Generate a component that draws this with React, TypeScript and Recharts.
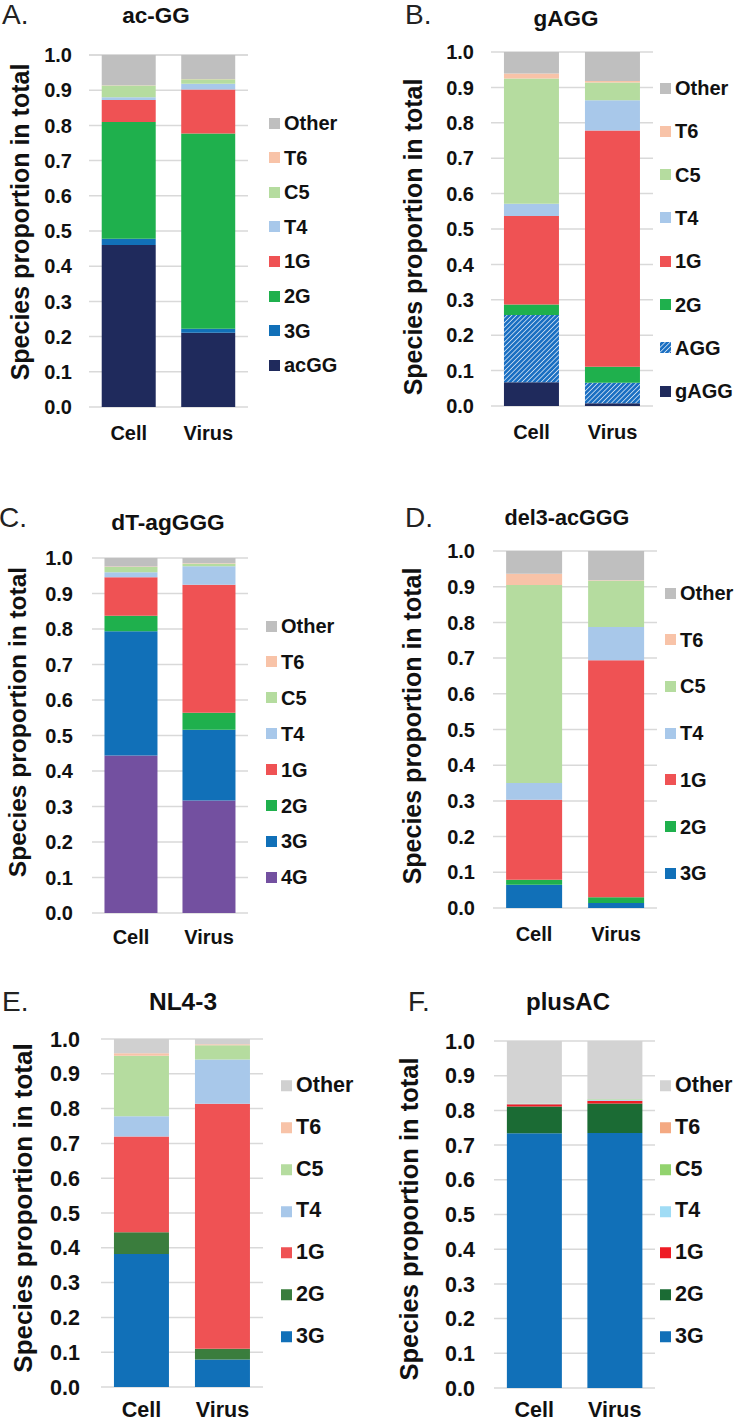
import React from "react";
import { BarChart, Bar, XAxis, YAxis, CartesianGrid } from "recharts";

const FONT = "'Liberation Sans', Arial, Helvetica, sans-serif";

const CATEGORIES = ["Cell", "Virus"];
const Y_TICKS = [0, 0.1, 0.2, 0.3, 0.4, 0.5, 0.6, 0.7, 0.8, 0.9, 1.0];
const Y_LABEL = "Species proportion in total";

// every stack is listed bottom -> top
const SERIES_ACGG = ["acGG", "3G", "2G", "1G", "T4", "C5", "T6", "Other"];
const ACGG_CELL = [0.46, 0.018, 0.332, 0.062, 0.008, 0.033, 0.001, 0.086];
const ACGG_VIRUS = [0.211, 0.011, 0.555, 0.125, 0.016, 0.013, 0.001, 0.068];

const SERIES_GAGG = ["gAGG", "AGG", "2G", "1G", "T4", "C5", "T6", "Other"];
const GAGG_CELL = [0.067, 0.19, 0.03, 0.25, 0.034, 0.354, 0.014, 0.061];
const GAGG_VIRUS = [0.0075, 0.0585, 0.045, 0.667, 0.086, 0.05, 0.004, 0.082];

const SERIES_DT = ["4G", "3G", "2G", "1G", "T4", "C5", "T6", "Other"];
const DT_CELL = [0.444, 0.35, 0.043, 0.109, 0.014, 0.015, 0.001, 0.024];
const DT_VIRUS = [0.317, 0.199, 0.048, 0.361, 0.052, 0.007, 0.001, 0.015];

const SERIES_DEL3 = ["3G", "2G", "1G", "T4", "C5", "T6", "Other"];
const DEL3_CELL = [0.065, 0.014, 0.224, 0.047, 0.555, 0.031, 0.064];
const DEL3_VIRUS = [0.014, 0.016, 0.664, 0.093, 0.13, 0.001, 0.082];

const SERIES_NL43 = ["3G", "2G", "1G", "T4", "C5", "T6", "Other"];
const NL43_CELL = [0.382, 0.063, 0.275, 0.058, 0.174, 0.007, 0.041];
const NL43_VIRUS = [0.079, 0.031, 0.704, 0.127, 0.041, 0.003, 0.015];

const SERIES_PLUSAC = ["3G", "2G", "1G", "T4", "C5", "T6", "Other"];
const PLUSAC_CELL = [0.734, 0.077, 0.007, 0.001, 0.001, 0.0, 0.18];
const PLUSAC_VIRUS = [0.735, 0.085, 0.008, 0.003, 0.001, 0.0, 0.168];

const NAVY = "#1f2a5c";
const BLUE = "#1170b8";
const GREEN = "#1fb04d";
const RED = "#ef5254";
const LBLUE = "#a8c8ea";
const LGREEN = "#b5dc9f";
const PEACH = "#f8c3a8";
const GREY = "#bfbfbf";
const PURPLE = "#7350a0";
const HATCH = "url(#aggHatch)";

const COLORS_ACGG = [NAVY, BLUE, GREEN, RED, LBLUE, LGREEN, PEACH, GREY];
const COLORS_GAGG = [NAVY, HATCH, GREEN, RED, LBLUE, LGREEN, PEACH, GREY];
const COLORS_DT = [PURPLE, BLUE, GREEN, RED, LBLUE, LGREEN, PEACH, GREY];
const COLORS_DEL3 = [BLUE, GREEN, RED, LBLUE, LGREEN, PEACH, GREY];
const COLORS_NL43 = [BLUE, "#3a7d3d", RED, LBLUE, LGREEN, PEACH, "#d0d0d0"];
const COLORS_PLUSAC = [BLUE, "#1b6b34", "#ee1c25", "#a0dcf5", "#92d36e", "#f4a982", "#d3d3d3"];

type Layout = {
  letter: string; letterX: number; letterY: number;
  title: string; titleX: number; titleY: number; titleSize: number;
  grid: [number, number, number, number];
  tickGap: number; fs: number;
  yLabelX: number; yLabelY: number; yLabelSize: number;
  legendX: number; legendY0: number; legendStep: number;
  xLabelY: number;
};

const AXIS_W = 70;
const PAD_T = 12;
const PAD_R = 4;
const X_H = 46;

function toRows(series: string[], cell: number[], virus: number[]) {
  return CATEGORIES.map((name, i) => {
    const vals = i === 0 ? cell : virus;
    const row: Record<string, number | string> = { name };
    series.forEach((s, j) => (row[s] = vals[j]));
    return row;
  });
}

function Swatch({ fill }: { fill: string }) {
  if (fill === HATCH) {
    return (
      <svg width={11} height={11} style={{ display: "block" }}>
        <defs>
          <pattern id="aggHatchLegend" width="3.4" height="3.4" patternUnits="userSpaceOnUse" patternTransform="rotate(45)">
            <rect width="3.4" height="3.4" fill="#1a6fc2" />
            <line x1="0" y1="0" x2="0" y2="3.4" stroke="#ffffff" strokeWidth="1.3" />
          </pattern>
        </defs>
        <rect width={11} height={11} fill="url(#aggHatchLegend)" />
      </svg>
    );
  }
  return <div style={{ width: 11, height: 11, background: fill }} />;
}

function Panel({ L, series, colors, cell, virus }: { L: Layout; series: string[]; colors: string[]; cell: number[]; virus: number[] }) {
  const rows = toRows(series, cell, virus);
  const [gl, gt, gr, gb] = L.grid;
  const w = gr - gl + AXIS_W + PAD_R;
  const h = gb - gt + PAD_T + X_H;
  const xTickY = L.xLabelY - 0.358 * L.fs;
  const text = { position: "absolute" as const, fontFamily: FONT, color: "#111", lineHeight: 1, whiteSpace: "nowrap" as const };

  return (
    <>
      <div style={{ ...text, left: L.letterX, top: L.letterY, fontSize: 28, transform: "translateY(-50%)", color: "#222" }}>{L.letter}</div>
      <div style={{ ...text, left: L.titleX, top: L.titleY, fontSize: L.titleSize, fontWeight: 700, transform: "translate(-50%,-50%)" }}>{L.title}</div>
      <div style={{ ...text, left: L.yLabelX, top: L.yLabelY, fontSize: L.yLabelSize, fontWeight: 700, transform: "translate(-50%,-50%) rotate(-90deg)" }}>{Y_LABEL}</div>
      <div style={{ position: "absolute", left: gl - AXIS_W, top: gt - PAD_T }}>
        <BarChart width={w} height={h} data={rows} margin={{ top: PAD_T, right: PAD_R, left: 0, bottom: 0 }} barCategoryGap="16%">
          <defs>
            <pattern id="aggHatch" width="3.4" height="3.4" patternUnits="userSpaceOnUse" patternTransform="rotate(45)">
              <rect width="3.4" height="3.4" fill="#1a6fc2" />
              <line x1="0" y1="0" x2="0" y2="3.4" stroke="#ffffff" strokeWidth="1.3" />
            </pattern>
          </defs>
          <CartesianGrid vertical={false} stroke="#d9d9d9" strokeWidth={1.5} />
          <XAxis dataKey="name" axisLine={false} tickLine={false} tickSize={0} height={X_H}
            tickMargin={xTickY - gb}
            tick={{ fill: "#111", fontSize: L.fs, fontWeight: 700, fontFamily: FONT }} />
          <YAxis type="number" domain={[0, 1]} ticks={Y_TICKS} interval={0} width={AXIS_W}
            axisLine={false} tickLine={false} tickSize={0} tickMargin={L.tickGap}
            tickFormatter={(v: number) => v.toFixed(1)}
            tick={{ fill: "#111", fontSize: L.fs, fontWeight: 700, fontFamily: FONT }} />
          {series.map((s, i) => (
            <Bar key={s} dataKey={s} stackId="a" fill={colors[i]} isAnimationActive={false} />
          ))}
        </BarChart>
      </div>
      {series.slice().reverse().map((s, k) => {
        const i = series.length - 1 - k;
        return (
          <div key={s} style={{ position: "absolute", left: L.legendX, top: L.legendY0 + k * L.legendStep, transform: "translateY(-50%)", display: "flex", alignItems: "center" }}>
            <Swatch fill={colors[i]} />
            <span style={{ fontFamily: FONT, fontWeight: 700, fontSize: L.fs, lineHeight: 1, marginLeft: 4, color: "#111" }}>{s}</span>
          </div>
        );
      })}
    </>
  );
}

const LAYOUT_A: Layout = { letter: "A.", letterX: 2, letterY: 15, title: "ac-GG", titleX: 156, titleY: 16, titleSize: 22.5, grid: [89, 55, 248, 407], tickGap: 17, fs: 20, yLabelX: 20, yLabelY: 222, yLabelSize: 25, legendX: 269, legendY0: 123, legendStep: 34.6, xLabelY: 433 };
const LAYOUT_B: Layout = { letter: "B.", letterX: 405, letterY: 15, title: "gAGG", titleX: 566, titleY: 19, titleSize: 22.5, grid: [491, 52, 653, 406], tickGap: 17, fs: 20, yLabelX: 413, yLabelY: 237, yLabelSize: 25, legendX: 660, legendY0: 88, legendStep: 43.3, xLabelY: 432 };
const LAYOUT_C: Layout = { letter: "C.", letterX: -1, letterY: 518, title: "dT-agGGG", titleX: 168, titleY: 522, titleSize: 22.7, grid: [92, 558, 248, 913], tickGap: 19, fs: 20, yLabelX: 18, yLabelY: 722, yLabelSize: 24.5, legendX: 266, legendY0: 626, legendStep: 35.9, xLabelY: 937 };
const LAYOUT_D: Layout = { letter: "D.", letterX: 405, letterY: 518, title: "del3-acGGG", titleX: 567, titleY: 518, titleSize: 21.6, grid: [493, 551, 657, 908], tickGap: 18, fs: 20, yLabelX: 412, yLabelY: 726, yLabelSize: 25, legendX: 665, legendY0: 593, legendStep: 46.7, xLabelY: 934 };
const LAYOUT_E: Layout = { letter: "E.", letterX: 2, letterY: 1002, title: "NL4-3", titleX: 183, titleY: 1002, titleSize: 24.5, grid: [101, 1039, 263, 1387], tickGap: 21, fs: 21.5, yLabelX: 23, yLabelY: 1208, yLabelSize: 26, legendX: 281, legendY0: 1086, legendStep: 41.8, xLabelY: 1409 };
const LAYOUT_F: Layout = { letter: "F.", letterX: 408, letterY: 1002, title: "plusAC", titleX: 568, titleY: 1002, titleSize: 24, grid: [494, 1041, 655, 1388], tickGap: 19, fs: 21.5, yLabelX: 410, yLabelY: 1219, yLabelSize: 25.5, legendX: 660, legendY0: 1086, legendStep: 41.8, xLabelY: 1409 };

export default function App() {
  return (
    <div style={{ position: "absolute", left: 0, top: 0, width: 734, height: 1423, background: "#fff", overflow: "hidden" }}>
      <Panel L={LAYOUT_A} series={SERIES_ACGG} colors={COLORS_ACGG} cell={ACGG_CELL} virus={ACGG_VIRUS} />
      <Panel L={LAYOUT_B} series={SERIES_GAGG} colors={COLORS_GAGG} cell={GAGG_CELL} virus={GAGG_VIRUS} />
      <Panel L={LAYOUT_C} series={SERIES_DT} colors={COLORS_DT} cell={DT_CELL} virus={DT_VIRUS} />
      <Panel L={LAYOUT_D} series={SERIES_DEL3} colors={COLORS_DEL3} cell={DEL3_CELL} virus={DEL3_VIRUS} />
      <Panel L={LAYOUT_E} series={SERIES_NL43} colors={COLORS_NL43} cell={NL43_CELL} virus={NL43_VIRUS} />
      <Panel L={LAYOUT_F} series={SERIES_PLUSAC} colors={COLORS_PLUSAC} cell={PLUSAC_CELL} virus={PLUSAC_VIRUS} />
    </div>
  );
}
